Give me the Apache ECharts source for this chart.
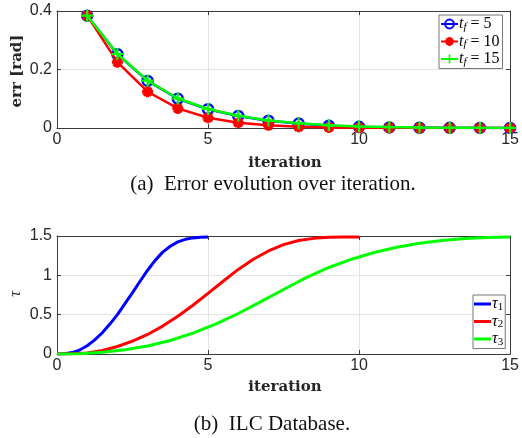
<!DOCTYPE html>
<html><head><meta charset="utf-8">
<script src="https://cdn.jsdelivr.net/npm/echarts@6/dist/echarts.min.js"></script>
<style>html,body{margin:0;padding:0;background:#fff}#c{width:522px;height:438px}</style>
</head><body><div id="c"></div>
<script>
// ---- data ----
const iterations = [1,2,3,4,5,6,7,8,9,10,11,12,13,14,15];
const err5  = [0.384,0.252,0.161,0.100,0.064,0.041,0.025,0.015,0.008,0.004,0.002,0.001,0.0005,0.0003,0.0002];
const err10 = [0.384,0.225,0.124,0.067,0.035,0.018,0.009,0.004,0.002,0.001,0.0005,0.0003,0.0002,0.0001,0.0001];
const err15 = [0.384,0.253,0.162,0.101,0.065,0.042,0.026,0.016,0.009,0.005,0.003,0.0015,0.001,0.0005,0.0003];

const t1 = [0,0.25,0.5,0.75,1,1.25,1.5,1.75,2,2.25,2.5,2.75,3,3.25,3.5,3.75,4,4.25,4.5,4.75,5];
const tau1 = [0,0.003,0.018,0.05,0.105,0.18,0.27,0.38,0.5,0.64,0.78,0.925,1.065,1.19,1.295,1.37,1.425,1.458,1.476,1.485,1.487];
const t2 = [0,0.5,1,1.5,2,2.5,3,3.5,4,4.5,5,5.5,6,6.5,7,7.5,8,8.5,9,9.5,10];
const tau2 = [0,0.002,0.014,0.045,0.095,0.163,0.248,0.355,0.48,0.62,0.77,0.925,1.075,1.205,1.31,1.39,1.442,1.47,1.483,1.487,1.487];
const t3 = [0,0.75,1.5,2.25,3,3.75,4.5,5.25,6,6.75,7.5,8.25,9,9.75,10.5,11.25,12,12.75,13.5,14.25,15];
const tau3 = [0,0.004,0.022,0.055,0.102,0.172,0.265,0.38,0.515,0.665,0.82,0.97,1.1,1.205,1.29,1.357,1.407,1.444,1.468,1.482,1.487];

// ---- helpers ----
const pairs = (xs, ys) => xs.map((x, i) => [x, ys[i]]);
const plusPath = 'path://M-0.9,-5 L0.9,-5 L0.9,-0.9 L5,-0.9 L5,0.9 L0.9,0.9 L0.9,5 L-0.9,5 L-0.9,0.9 L-5,0.9 L-5,-0.9 L-0.9,-0.9 Z';
const starPath = 'path://M-1.5,-5 L1.5,-5 L1.5,5 L-1.5,5 Z M-5,-1.5 L5,-1.5 L5,1.5 L-5,1.5 Z M2.475,-4.596 L4.596,-2.475 L-2.475,4.596 L-4.596,2.475 Z M-4.596,-2.475 L-2.475,-4.596 L4.596,2.475 L2.475,4.596 Z M-2.6,0 A2.6,2.6 0 1 1 2.6,0 A2.6,2.6 0 1 1 -2.6,0 Z';
const axisColor = '#3a3a3a';
const labelStyle = {fontFamily:'Liberation Sans, Arial, sans-serif', fontSize:16, color:'#262626'};

function mainX(grid){
  return {type:'value', gridIndex:grid, min:0, max:15, interval:5,
    axisLine:{show:true, onZero:false, lineStyle:{color:axisColor, width:1}},
    axisTick:{show:true, inside:true, length:4, lineStyle:{color:axisColor}},
    axisLabel:Object.assign({margin:4}, labelStyle),
    splitLine:{show:true, lineStyle:{color:'#e4e4e4', width:1}}};
}
function boxX(grid){
  return {type:'value', gridIndex:grid, position:'top', min:0, max:15, interval:5,
    axisLine:{show:true, onZero:false, lineStyle:{color:axisColor}},
    axisTick:{show:true, inside:true, length:4, lineStyle:{color:axisColor}},
    axisLabel:{show:false}, splitLine:{show:false}};
}
function mainY(grid, max, interval){
  return {type:'value', gridIndex:grid, min:0, max:max, interval:interval,
    axisLine:{show:true, onZero:false, lineStyle:{color:axisColor}},
    axisTick:{show:true, inside:true, length:4, lineStyle:{color:axisColor}},
    axisLabel:Object.assign({margin:5}, labelStyle),
    splitLine:{show:true, lineStyle:{color:'#e4e4e4', width:1}}};
}
function boxY(grid, max, interval){
  return {type:'value', gridIndex:grid, position:'right', min:0, max:max, interval:interval,
    axisLine:{show:true, onZero:false, lineStyle:{color:axisColor}},
    axisTick:{show:true, inside:true, length:4, lineStyle:{color:axisColor}},
    axisLabel:{show:false}, splitLine:{show:false}};
}

const chart = echarts.init(document.getElementById('c'), null, {renderer:'canvas'});
const serifRich = {
  i:{fontFamily:'Liberation Serif, serif', fontStyle:'italic', fontSize:16, color:'#000'},
  si:{fontFamily:'Liberation Serif, serif', fontStyle:'italic', fontSize:11, color:'#000', padding:[6,0,0,0]},
  s:{fontFamily:'Liberation Serif, serif', fontSize:11, color:'#000', padding:[6,0,0,0]},
  n:{fontFamily:'Liberation Serif, serif', fontSize:16, color:'#000'}
};
const legendNames1 = {'tf5':'{i|t}{si|f}{n| = 5}', 'tf10':'{i|t}{si|f}{n| = 10}', 'tf15':'{i|t}{si|f}{n| = 15}'};
const legendNames2 = {'tau1':'{i|τ}{s|1}', 'tau2':'{i|τ}{s|2}', 'tau3':'{i|τ}{s|3}'};

chart.setOption({
  animation:false,
  backgroundColor:'#fff',
  grid:[
    {left:57, top:11, width:455, height:117},
    {left:57, top:236, width:455, height:118}
  ],
  xAxis:[mainX(0), mainX(1), boxX(0), boxX(1)],
  yAxis:[mainY(0,0.4,0.2), mainY(1,1.5,0.5), boxY(0,0.4,0.2), boxY(1,1.5,0.5)],
  legend:[
    {orient:'vertical', left:439, top:15, data:['tf5','tf10','tf15'],
     backgroundColor:'#fff', borderColor:'#777', borderWidth:1, borderRadius:0,
     padding:[1,3,1,1], itemGap:1, itemWidth:17, itemHeight:11,
     formatter:n=>legendNames1[n], textStyle:{rich:serifRich, padding:[0,0,0,-4]}},
    {orient:'vertical', left:473, top:295,
     data:[{name:'tau1', icon:'rect'},{name:'tau2', icon:'rect'},{name:'tau3', icon:'rect'}],
     backgroundColor:'#fff', borderColor:'#777', borderWidth:1, borderRadius:0,
     padding:[1,2,1,1], itemGap:1, itemWidth:17, itemHeight:3,
     formatter:n=>legendNames2[n], textStyle:{rich:serifRich, padding:[0,0,0,-4]}}
  ],
  graphic:[
    {type:'text', style:{text:'iteration', x:285, y:163, align:'center', verticalAlign:'middle', font:'bold 15px "DejaVu Serif", serif', fill:'#262626'}},
    {type:'text', style:{text:'err [rad]', x:0, y:0, align:'center', verticalAlign:'middle', font:'bold 15px "DejaVu Serif", serif', fill:'#262626'}, x:17, y:71, rotation:Math.PI/2},
    {type:'text', style:{text:'(a)  Error evolution over iteration.', x:273, y:184, align:'center', verticalAlign:'middle', font:'21px "Liberation Serif", "Times New Roman", serif', fill:'#111'}},
    {type:'text', style:{text:'iteration', x:285, y:387, align:'center', verticalAlign:'middle', font:'bold 15px "DejaVu Serif", serif', fill:'#262626'}},
    {type:'text', style:{text:'τ', x:0, y:0, align:'center', verticalAlign:'middle', font:'italic 16px "Liberation Serif", serif', fill:'#262626'}, x:16, y:294, rotation:Math.PI/2},
    {type:'text', style:{text:'(b)  ILC Database.', x:272, y:424, align:'center', verticalAlign:'middle', font:'21px "Liberation Serif", "Times New Roman", serif', fill:'#111'}}
  ],
  series:[
    {name:'tf5', type:'line', xAxisIndex:0, yAxisIndex:0, data:pairs(iterations, err5),
     symbol:'circle', symbolSize:10, showAllSymbol:true,
     lineStyle:{color:'#0000ff', width:2.5},
     itemStyle:{color:'rgba(255,255,255,0)', borderColor:'#0000ff', borderWidth:2.5}, z:2},
    {name:'tf10', type:'line', xAxisIndex:0, yAxisIndex:0, data:pairs(iterations, err10),
     symbol:starPath, symbolSize:11, showAllSymbol:true,
     lineStyle:{color:'#ff0000', width:2.5},
     itemStyle:{color:'#ff0000'}, z:3},
    {name:'tf15', type:'line', xAxisIndex:0, yAxisIndex:0, data:pairs(iterations, err15),
     symbol:plusPath, symbolSize:12, showAllSymbol:true,
     lineStyle:{color:'#00ff00', width:2.5},
     itemStyle:{color:'#00ff00'}, z:4},
    {name:'tau1', type:'line', xAxisIndex:1, yAxisIndex:1, data:pairs(t1, tau1), symbol:'none',
     lineStyle:{color:'#0000ff', width:3}, itemStyle:{color:'#0000ff'}},
    {name:'tau2', type:'line', xAxisIndex:1, yAxisIndex:1, data:pairs(t2, tau2), symbol:'none',
     lineStyle:{color:'#ff0000', width:3}, itemStyle:{color:'#ff0000'}},
    {name:'tau3', type:'line', xAxisIndex:1, yAxisIndex:1, data:pairs(t3, tau3), symbol:'none',
     lineStyle:{color:'#00ff00', width:3}, itemStyle:{color:'#00ff00'}}
  ]
});
</script></body></html>
